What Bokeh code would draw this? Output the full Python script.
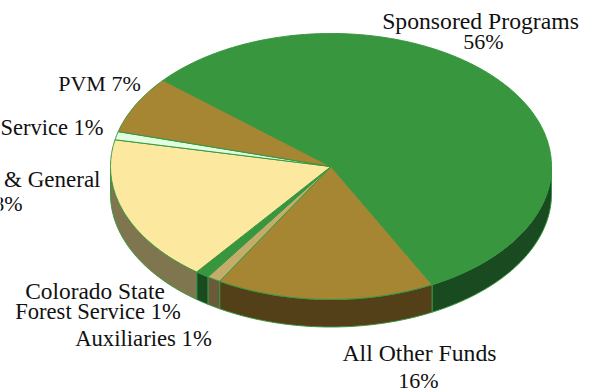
import numpy as np
from bokeh.plotting import figure
from bokeh.models import Range1d
from bokeh.core.properties import value
from bokeh.embed import file_html
from bokeh.resources import INLINE

categories = ["Sponsored Programs", "All Other Funds", "Auxiliaries",
              "Colorado State Forest Service", "Education & General",
              "Extension Service", "PVM"]
shares = [56.2, 16, 1, 1, 17.8, 1, 7]
top_colors = ["#38963F", "#A68633", "#C4AD6A", "#38963F", "#FDE8A0", "#E0FFE0", "#A68633"]
side_colors = ["#1A4A1F", "#533F18", "#6B5A3A", "#1A4A1F", "#7F7650", "#708070", "#533F18"]
label_lines = ["Sponsored Programs", "56%", "All Other Funds", "16%", "Auxiliaries 1%",
               "Colorado State", "Forest Service 1%", "Education & General", "18%",
               "Extension Service 1%", "PVM 7%"]

CX, CY, RX, RY, DEPTH = 330.5, 166, 220.5, 133, 27.5
START = 139.6
OUTLINE = "#38963F"
lx = [480, 483, 419, 418, 143, 94.5, 97.5, 100, 2, 103, 99]
ly = [20, 41, 352, 380, 338, 290, 311, 179, 203, 127, 83]
la = ["center", "center", "center", "center", "center", "center", "center",
      "right", "center", "right", "center"]
ls = ["23.7px", "22px", "23.7px", "22px", "22.7px", "23.4px", "22.6px",
      "23px", "22px", "22.5px", "22px"]

p = figure(width=591, height=392, output_backend="svg", toolbar_location=None,
           x_range=Range1d(0, 591), y_range=Range1d(392, 0),
           min_border=0, outline_line_color=None, background_fill_color="white",
           border_fill_color="white")
p.axis.visible = False
p.grid.visible = False
p.styles = {"position": "absolute", "left": "0px", "top": "0px"}


def pt(deg):
    r = np.radians(deg)
    return CX + RX * np.cos(r), CY - RY * np.sin(r)


total = sum(shares)
edges = [START]
for s in shares:
    edges.append(edges[-1] - 360 * s / total)

# side walls: only the front half of the rim, angles 0 to -180
for i in range(len(shares)):
    start = min(edges[i], 0)
    end = max(edges[i + 1], -180)
    if start <= end:
        continue
    t = np.linspace(start, end, 80)
    x, y = pt(t)
    xs = np.concatenate([x, x[::-1]])
    ys = np.concatenate([y, y[::-1] + DEPTH])
    p.patch(xs, ys, fill_color=side_colors[i], line_color=OUTLINE, line_width=1)

# top faces
for i in range(len(shares)):
    t = np.linspace(edges[i], edges[i + 1], max(int(abs(edges[i] - edges[i + 1]) * 2), 4))
    x, y = pt(t)
    xs = np.concatenate([[CX], x])
    ys = np.concatenate([[CY], y])
    p.patch(xs, ys, fill_color=top_colors[i], line_color=OUTLINE, line_width=1)

for t_, x_, y_, a_, s_ in zip(label_lines, lx, ly, la, ls):
    p.text([x_], [y_], text=[t_], text_align=a_, text_baseline="middle",
           text_font=value("Liberation Serif"), text_font_size=s_, text_color="#111111")

open("out.html", "w").write(file_html(p, INLINE))
